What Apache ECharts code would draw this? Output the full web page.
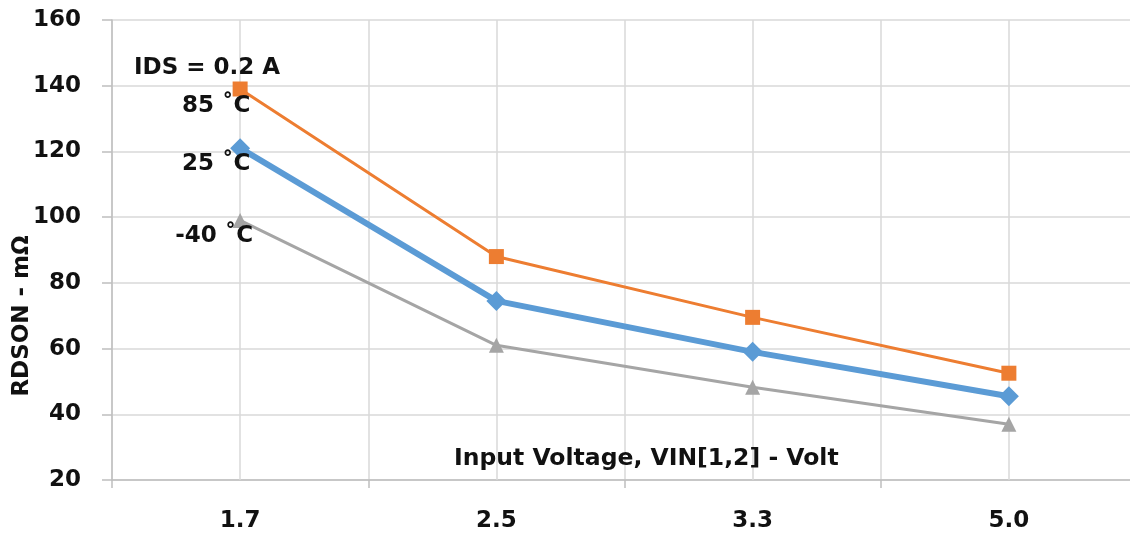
<!DOCTYPE html>
<html>
<head>
<meta charset="utf-8">
<script src="https://cdn.jsdelivr.net/npm/echarts@6/dist/echarts.min.js"></script>
<style>
html,body{margin:0;padding:0;background:#fff;}
#chart{width:1130px;height:536px;}
</style>
</head>
<body>
<div id="chart"></div>
<script>
const categories = ['1.7', '2.5', '3.3', '5.0'];
const seriesNames = ['85 ˚C', '25 ˚C', '-40 ˚C'];
const values85 = [139, 88, 69.5, 52.5];
const values25 = [121, 74.5, 59, 45.5];
const valuesM40 = [99, 61, 48.2, 37];
const yTicks = { min: 20, max: 160, interval: 20 };
const yName = 'RDSON - mΩ';
const xName = 'Input Voltage, VIN[1,2] - Volt';
const noteText = 'IDS = 0.2 A';

const FONT = 'DejaVu Sans';
const txt = { fontFamily: FONT, fontWeight: 'bold', fontSize: 23, color: '#111' };

function firstLabel(name, dx, dy) {
  return {
    show: true, position: 'inside', offset: [dx, dy],
    formatter: name, ...txt
  };
}

function makeData(vals, name, dx, dy) {
  return vals.map((v, i) => i === 0 ? { value: v, label: firstLabel(name, dx, dy) } : v);
}

const chart = echarts.init(document.getElementById('chart'));
chart.setOption({
  animation: false,
  backgroundColor: '#fff',
  grid: { left: 112, top: 20, bottom: 56, right: -7, containLabel: false, outerBoundsMode: 'none' },
  title: [
    { text: noteText, left: 134, top: 57, textStyle: { ...txt }, padding: 0 },
    { text: xName, left: 454, top: 447, textStyle: { ...txt, fontSize: 23.5 }, padding: 0 }
  ],
  xAxis: {
    type: 'category', data: categories, boundaryGap: true,
    axisLine: { lineStyle: { color: '#bfbfbf', width: 1.5 } },
    axisTick: { show: true, length: 8, lineStyle: { color: '#bfbfbf', width: 1.5 } },
    axisLabel: { margin: 30, ...txt },
    splitLine: { show: true, lineStyle: { color: '#d9d9d9', width: 1.5 } }
  },
  yAxis: {
    type: 'value', min: yTicks.min, max: yTicks.max, interval: yTicks.interval,
    name: yName, nameLocation: 'middle', nameGap: 78, nameRotate: 90,
    nameMoveOverlap: false,
    nameTextStyle: { ...txt, padding: [0, 132, 0, 0] },
    axisLine: { show: true, lineStyle: { color: '#bfbfbf', width: 1.5 } },
    axisTick: { show: true, length: 10, lineStyle: { color: '#bfbfbf', width: 1.5 } },
    axisLabel: { margin: 31, ...txt },
    splitLine: { show: true, lineStyle: { color: '#d9d9d9', width: 1.5 } }
  },
  series: [
    {
      name: seriesNames[2], type: 'line', data: makeData(valuesM40, seriesNames[2], -26, 16),
      symbol: 'triangle', symbolSize: 15, z: 3,
      lineStyle: { color: '#a5a5a5', width: 3 }, itemStyle: { color: '#a5a5a5' },
      markLine: {
        silent: true, symbol: 'none', label: { show: false }, z: 1,
        lineStyle: { color: '#d9d9d9', width: 1.5, type: 'solid' },
        data: categories.map(c => ({ xAxis: c }))
      }
    },
    {
      name: seriesNames[1], type: 'line', data: makeData(values25, seriesNames[1], -24, 16),
      symbol: 'diamond', symbolSize: 20, z: 4,
      lineStyle: { color: '#5b9bd5', width: 6 }, itemStyle: { color: '#5b9bd5' }
    },
    {
      name: seriesNames[0], type: 'line', data: makeData(values85, seriesNames[0], -24, 17),
      symbol: 'rect', symbolSize: 15, z: 5,
      lineStyle: { color: '#ed7d31', width: 3 }, itemStyle: { color: '#ed7d31' }
    }
  ]
});
</script>
</body>
</html>
